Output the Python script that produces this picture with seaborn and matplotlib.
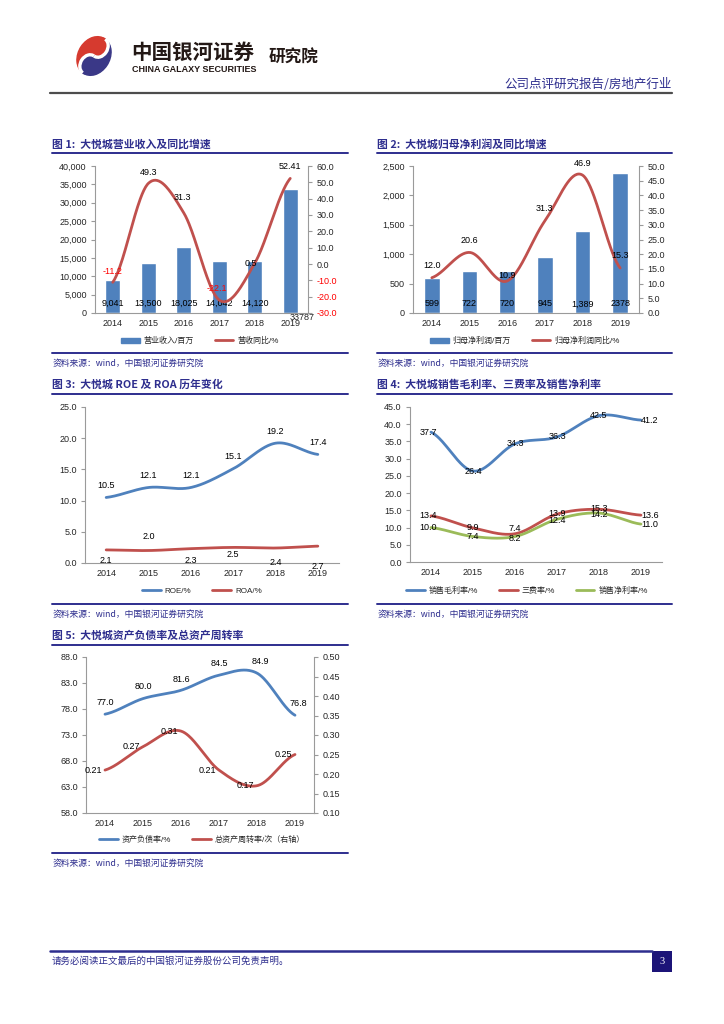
import numpy as np
import matplotlib
matplotlib.use('Agg')
import matplotlib.pyplot as plt
from matplotlib.patches import Patch, Rectangle, Wedge, Circle, Arc
from matplotlib.lines import Line2D
from matplotlib.transforms import Affine2D
import seaborn as sns

# ---- data ----
years = ['2014', '2015', '2016', '2017', '2018', '2019']

revenue = [9041, 13500, 18025, 14042, 14120, 33787]
revenue_yoy = [-11.2, 49.3, 31.3, -22.1, 0.5, 52.41]

net_profit = [599, 722, 720, 945, 1389, 2378]
net_profit_yoy = [12.0, 20.6, 10.9, 31.3, 46.9, 15.3]

roe = [10.5, 12.1, 12.1, 15.1, 19.2, 17.4]
roa = [2.1, 2.0, 2.3, 2.5, 2.4, 2.7]

gross_margin = [37.7, 26.4, 34.3, 36.3, 42.5, 41.2]
expense_ratio = [13.4, 9.9, 8.2, 13.9, 15.3, 13.6]
net_margin = [10.0, 7.4, 7.4, 12.4, 14.2, 11.0]

debt_ratio = [77.0, 80.0, 81.6, 84.5, 84.9, 76.8]
asset_turnover = [0.21, 0.27, 0.31, 0.21, 0.17, 0.25]

# ---- style ----
BLUE = '#4F81BD'
RED = '#C0504D'
GREEN = '#9BBB59'
NAVY = '#2E2E8E'
AXIS = '#9A9A9A'
NUM = ['Liberation Sans', 'Noto Sans CJK SC']

sns.set_style('white')
plt.rcParams['font.family'] = ['Liberation Sans', 'Noto Sans CJK SC', 'DejaVu Sans']

fig = plt.figure(figsize=(7.24, 10.24), dpi=100)


def fx(px):
    return px / 724


def fy(px):
    return 1 - px / 1024


def hline(y, x0, x1, color=NAVY, lw=1.4):
    fig.add_artist(Line2D([fx(x0), fx(x1)], [fy(y), fy(y)], transform=fig.transFigure,
                          color=color, lw=lw))


def smooth(vals, n=40):
    """Excel-like smoothed line (Catmull-Rom through the points)."""
    v = np.asarray(vals, float)
    xs, ys = [], []
    for i in range(len(v) - 1):
        p0 = v[i - 1] if i > 0 else v[i]
        p1, p2 = v[i], v[i + 1]
        p3 = v[i + 2] if i + 2 < len(v) else v[i + 1]
        t = np.linspace(0, 1, n, endpoint=(i == len(v) - 2))
        y = 0.5 * (2 * p1 + (p2 - p0) * t + (2 * p0 - 5 * p1 + 4 * p2 - p3) * t ** 2
                   + (-p0 + 3 * p1 - 3 * p2 + p3) * t ** 3)
        xs.append(i + t)
        ys.append(y)
    return np.concatenate(xs), np.concatenate(ys)


def draw_line(ax, vals, color):
    sx, sy = smooth(vals)
    sns.lineplot(x=sx, y=sy, ax=ax, color=color, lw=2.0, legend=False, sort=False)


def base_axis(ax, ylim, yticks, ylabels):
    ax.set_xlim(-0.5, 5.5)
    ax.set_ylim(*ylim)
    ax.set_yticks(yticks)
    ax.set_yticklabels(ylabels, fontsize=6.5, family=NUM)
    ax.set_xticks(range(6))
    ax.set_xticklabels(years, fontsize=6.5)
    ax.set_xticks(np.arange(-0.5, 6, 1), minor=True)
    ax.tick_params(axis='x', which='major', length=0, pad=4)
    ax.tick_params(axis='x', which='minor', length=3, color=AXIS, width=0.8)
    ax.tick_params(axis='y', length=3, color=AXIS, width=0.8, pad=3, left=True)
    for s in ['top', 'right']:
        ax.spines[s].set_visible(False)
    for s in ['left', 'bottom']:
        ax.spines[s].set_color(AXIS)
        ax.spines[s].set_linewidth(0.8)
    ax.set_xlabel('')
    ax.set_ylabel('')


def right_axis(ax, ylim, yticks, ylabels):
    axr = ax.twinx()
    axr.set_ylim(*ylim)
    axr.set_yticks(yticks)
    axr.set_yticklabels(ylabels, fontsize=6.5, family=NUM)
    axr.tick_params(axis='y', length=3, color=AXIS, width=0.8, pad=3, right=True)
    for s in ['top', 'left', 'bottom']:
        axr.spines[s].set_visible(False)
    axr.spines['right'].set_color(AXIS)
    axr.spines['right'].set_linewidth(0.8)
    axr.set_ylabel('')
    return axr


def labels(ax, vals, texts, offsets, colors=None, ha='center'):
    for i, (v, t, off) in enumerate(zip(vals, texts, offsets)):
        c = colors[i] if colors else 'black'
        ax.annotate(t, (i, v), xytext=off, textcoords='offset pixels', ha=ha, va='center',
                    fontsize=6.5, color=c, family=NUM)


def chart_frame(title, x0, x1, y_title, y_bottom, source=True):
    fig.text(fx(x0), fy(y_title), title, fontsize=7.8, fontweight='bold', color=NAVY,
             va='center', ha='left', family=['Noto Sans CJK SC'])
    hline(y_title + 9, x0, x1)
    hline(y_bottom, x0, x1)
    if source:
        fig.text(fx(x0 + 1), fy(y_bottom + 10), '资料来源：wind，中国银河证券研究院', fontsize=6.3,
                 color=NAVY, va='center', ha='left', family=['Noto Sans CJK SC'])


def legend(handles, names, cx, cy):
    fig.legend(handles, names, loc='center', bbox_to_anchor=(fx(cx), fy(cy)), ncol=len(names),
               frameon=False, fontsize=5.8, handlelength=2.3, handleheight=0.6,
               columnspacing=2.6, handletextpad=0.5)


# ---- header ----
logo = fig.add_axes([fx(74), fy(77), fx(40), 42 / 1024])
logo.set_xlim(-1.02, 1.02)
logo.set_ylim(-1.02, 1.02)
logo.axis('off')
rot = Affine2D().scale(0.8, 1.0).rotate_deg(-35) + logo.transData
LOGO_RED, LOGO_NAVY = '#D63A2F', '#3A3887'
for p in [Wedge((0, 0), 1, 90, 270, color=LOGO_RED), Wedge((0, 0), 1, -90, 90, color=LOGO_NAVY),
          Circle((0, 0.5), 0.5, color=LOGO_RED), Circle((0, -0.5), 0.5, color=LOGO_NAVY),
          Arc((0, 0.5), 1.0, 1.0, theta1=-90, theta2=90, color='white', lw=2.4),
          Arc((0, -0.5), 1.0, 1.0, theta1=90, theta2=270, color='white', lw=2.4)]:
    p.set_transform(rot)
    logo.add_patch(p)

fig.text(fx(131), fy(52), '中国银河证券', fontsize=14.8, fontweight='bold', color='#231815',
         va='center', ha='left', family=['Noto Sans CJK SC'])
fig.text(fx(132), fy(69.5), 'CHINA GALAXY SECURITIES', fontsize=6.5, fontweight='bold',
         color='#231815', va='center', ha='left')
fig.text(fx(269), fy(58), '研究院', fontsize=12, fontweight='bold', color='#231815',
         va='center', ha='left', family=['Noto Sans CJK SC'])
fig.text(fx(672), fy(84), '公司点评研究报告/房地产行业', fontsize=9, color=NAVY,
         va='center', ha='right', family=['Noto Sans CJK SC'])
hline(93, 50, 672, color='#4D4D4D', lw=1.6)

# ---- chart 1: revenue & yoy ----
chart_frame('图 1:  大悦城营业收入及同比增速', 52, 348, 144, 353)
ax1 = fig.add_axes([fx(95), fy(313), fx(308 - 95), (313 - 166) / 1024])
sns.barplot(x=years, y=revenue, ax=ax1, color=BLUE, width=0.42, saturation=1)
base_axis(ax1, (0, 40000), range(0, 40001, 5000), [f'{v:,}' for v in range(0, 40001, 5000)])
labels(ax1, [0] * 5, [f'{v:,}' for v in revenue[:5]], [(0, 10)] * 5)
ax1.annotate(str(revenue[5]), (5, 0), xytext=(12, -5), textcoords='offset pixels',
             ha='center', va='center', fontsize=6.5, family=NUM)
r1_ticks = list(range(-30, 61, 10))
ax1r = right_axis(ax1, (-30, 60), r1_ticks, [f'{v:.1f}' for v in r1_ticks])
for t, v in zip(ax1r.get_yticklabels(), r1_ticks):
    if v < 0:
        t.set_color('red')
draw_line(ax1r, revenue_yoy, RED)
labels(ax1r, revenue_yoy, ['-11.2', '49.3', '31.3', '-22.1', '0.5', '52.41'],
       [(0, 11), (0, 11), (-1, 15), (-2, 12), (-4, 0), (0, 12)],
       colors=['red' if v < 0 else 'black' for v in revenue_yoy])
legend([Patch(color=BLUE), Line2D([], [], color=RED, lw=2)], ['营业收入/百万', '营收同比/%'], 200, 341)

# ---- chart 2: net profit & yoy ----
chart_frame('图 2:  大悦城归母净利润及同比增速', 377, 672, 144, 353)
ax2 = fig.add_axes([fx(413), fy(313), fx(639 - 413), (313 - 166) / 1024])
sns.barplot(x=years, y=net_profit, ax=ax2, color=BLUE, width=0.42, saturation=1)
base_axis(ax2, (0, 2500), range(0, 2501, 500), [f'{v:,}' for v in range(0, 2501, 500)])
labels(ax2, [0] * 6, ['599', '722', '720', '945', '1,389', '2378'], [(0, 9)] * 6)
r2_ticks = np.arange(0, 50.1, 5)
ax2r = right_axis(ax2, (0, 50), r2_ticks, [f'{v:.1f}' for v in r2_ticks])
draw_line(ax2r, net_profit_yoy, RED)
labels(ax2r, net_profit_yoy, [f'{v:.1f}' for v in net_profit_yoy],
       [(0, 12), (0, 12), (0, 5), (0, 12), (0, 12), (0, 13)])
legend([Patch(color=BLUE), Line2D([], [], color=RED, lw=2)], ['归母净利润/百万', '归母净利润同比/%'], 525, 341)

# ---- chart 3: ROE & ROA ----
chart_frame('图 3:  大悦城 ROE 及 ROA 历年变化', 52, 348, 385, 604)
ax3 = fig.add_axes([fx(85), fy(563), fx(339 - 85), (563 - 407) / 1024])
draw_line(ax3, roe, BLUE)
draw_line(ax3, roa, RED)
base_axis(ax3, (0, 25), np.arange(0, 25.1, 5), [f'{v:.1f}' for v in np.arange(0, 25.1, 5)])
labels(ax3, roe, [f'{v:.1f}' for v in roe], [(0, 12)] * 6)
labels(ax3, roa, [f'{v:.1f}' for v in roa],
       [(0, -11), (0, 14), (0, -12), (0, -7), (0, -14), (0, -20)])
legend([Line2D([], [], color=BLUE, lw=2), Line2D([], [], color=RED, lw=2)], ['ROE/%', 'ROA/%'], 202, 591)

# ---- chart 4: margins ----
chart_frame('图 4:  大悦城销售毛利率、三费率及销售净利率', 377, 672, 385, 604)
ax4 = fig.add_axes([fx(410), fy(562), fx(662 - 410), (562 - 407) / 1024])
draw_line(ax4, gross_margin, BLUE)
draw_line(ax4, expense_ratio, RED)
draw_line(ax4, net_margin, GREEN)
base_axis(ax4, (0, 45), np.arange(0, 45.1, 5), [f'{v:.1f}' for v in np.arange(0, 45.1, 5)])
edge = [(-3, 0), (0, 0), (0, 0), (0, 0), (0, 0), (9, 0)]
labels(ax4, gross_margin, [f'{v:.1f}' for v in gross_margin], edge)
labels(ax4, expense_ratio, [f'{v:.1f}' for v in expense_ratio],
       [(-3, 0), (0, 0), (0, -5), (0, 1), (0, 1), (9, 0)])
labels(ax4, net_margin, [f'{v:.1f}' for v in net_margin],
       [(-3, 0), (0, 0), (0, 8), (0, -1), (0, -1), (9, 0)])
legend([Line2D([], [], color=BLUE, lw=2), Line2D([], [], color=RED, lw=2),
        Line2D([], [], color=GREEN, lw=2)], ['销售毛利率/%', '三费率/%', '销售净利率/%'], 527, 591)

# ---- chart 5: debt ratio & asset turnover ----
chart_frame('图 5:  大悦城资产负债率及总资产周转率', 52, 348, 636, 853)
ax5 = fig.add_axes([fx(86), fy(813), fx(314 - 86), (813 - 657) / 1024])
draw_line(ax5, debt_ratio, BLUE)
l5 = np.arange(58, 88.1, 5)
base_axis(ax5, (58, 88), l5, [f'{v:.1f}' for v in l5])
labels(ax5, debt_ratio, [f'{v:.1f}' for v in debt_ratio],
       [(0, 12), (0, 12), (0, 11), (0, 12), (3, 12), (3, 12)])
r5 = np.arange(0.10, 0.501, 0.05)
ax5r = right_axis(ax5, (0.10, 0.50), r5, [f'{v:.2f}' for v in r5])
draw_line(ax5r, asset_turnover, RED)
labels(ax5r, asset_turnover, [f'{v:.2f}' for v in asset_turnover], [(-3, 0)] * 6, ha='right')
legend([Line2D([], [], color=BLUE, lw=2), Line2D([], [], color=RED, lw=2)],
       ['资产负债率/%', '总资产周转率/次（右轴）'], 202, 840)

# ---- footer ----
hline(951, 50, 652, color=NAVY, lw=1.8)
fig.add_artist(Rectangle((fx(652), fy(972)), fx(20), 21 / 1024, transform=fig.transFigure,
                         facecolor='#1C1478', edgecolor='none'))
fig.text(fx(662), fy(961.5), '3', color='white', fontsize=7.5, ha='center', va='center',
         family=['Liberation Serif'])
fig.text(fx(52), fy(961), '请务必阅读正文最后的中国银河证券股份公司免责声明。', fontsize=6.8,
         color=NAVY, ha='left', va='center', family=['Noto Sans CJK SC'])

fig.savefig('out.png', dpi=100, facecolor='white')
